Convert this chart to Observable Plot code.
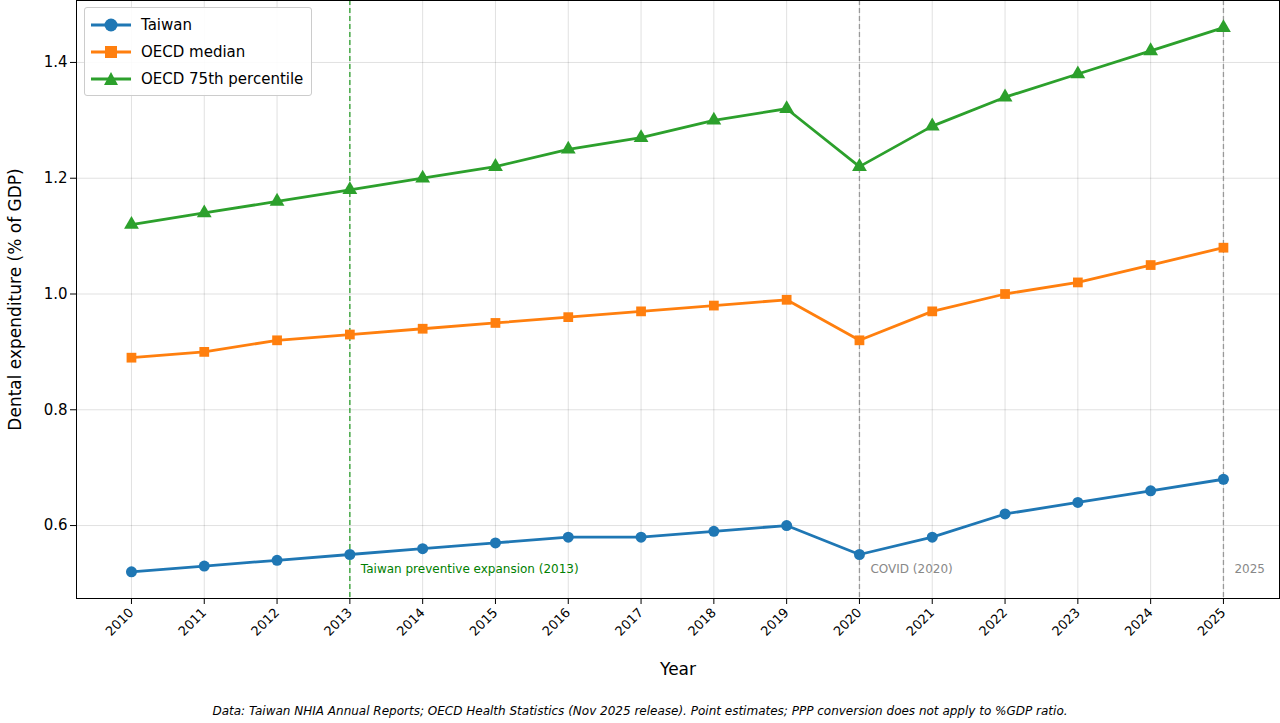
<!DOCTYPE html>
<html><head><meta charset="utf-8">
<script src="https://cdn.jsdelivr.net/npm/d3@7"></script>
<script src="https://cdn.jsdelivr.net/npm/@observablehq/plot@0.6"></script>
<style>
body{margin:0;background:#fff;font-family:"DejaVu Sans",sans-serif;}
#wrap{position:relative;width:1280px;}
#legend{position:absolute;left:84px;top:7px;background:rgba(255,255,255,0.9);border:1px solid #ccc;border-radius:3px;padding:3px 8px 3px 6px;font-size:15px;}
#legend div{display:flex;align-items:center;height:27px;}
#legend svg{margin-right:10px;}
#cap{text-align:center;font-style:italic;font-size:12px;margin-top:18px;}
</style></head><body>
<div id="wrap"><div id="chart"></div>
<div id="legend"></div>
<div id="cap">Data: Taiwan NHIA Annual Reports; OECD Health Statistics (Nov 2025 release). Point estimates; PPP conversion does not apply to %GDP ratio.</div></div>
<script>
const years=[2010,2011,2012,2013,2014,2015,2016,2017,2018,2019,2020,2021,2022,2023,2024,2025];
const taiwan=[0.52,0.53,0.54,0.55,0.56,0.57,0.58,0.58,0.59,0.60,0.55,0.58,0.62,0.64,0.66,0.68];
const median=[0.89,0.90,0.92,0.93,0.94,0.95,0.96,0.97,0.98,0.99,0.92,0.97,1.00,1.02,1.05,1.08];
const p75=[1.12,1.14,1.16,1.18,1.20,1.22,1.25,1.27,1.30,1.32,1.22,1.29,1.34,1.38,1.42,1.46];
const series=[{name:"Taiwan",vals:taiwan,color:"#1f77b4",sym:"circle"},{name:"OECD median",vals:median,color:"#ff7f0e",sym:"square"},{name:"OECD 75th percentile",vals:p75,color:"#2ca02c",sym:"triangle"}];
const data=series.flatMap(s=>years.map((y,i)=>({year:y,v:s.vals[i],name:s.name})));
const colors=series.map(s=>s.color);
const vlines=[{x:2013,c:"#2ca02c",tc:"green",t:"Taiwan preventive expansion (2013)"},{x:2020,c:"#999",tc:"#888",t:"COVID (2020)"},{x:2025,c:"#999",tc:"#888",t:"2025"}];
const chart=Plot.plot({
 width:1280,height:686,marginTop:0,marginBottom:88,marginLeft:76,marginRight:1,
 style:{fontSize:"13px",fontFamily:"DejaVu Sans"},
 x:{domain:[2009.245,2025.77]},
 y:{domain:[0.474,1.507]},
 color:{domain:series.map(s=>s.name),range:colors},
 symbol:{domain:series.map(s=>s.name),range:["circle","square","triangle"]},
 marks:[
  Plot.gridX(years,{stroke:"#000",strokeOpacity:0.12}),
  Plot.gridY([0.6,0.8,1.0,1.2,1.4],{stroke:"#000",strokeOpacity:0.12}),
  Plot.ruleX(vlines,{x:"x",stroke:"c",strokeDasharray:"5,3",strokeWidth:1.3}),
  Plot.text(vlines,{x:"x",y:0.525,text:"t",fill:"tc",textAnchor:"start",dx:11,fontSize:12}),
  Plot.line(data,{x:"year",y:"v",stroke:"name",strokeWidth:2.8}),
  Plot.dot(data,{x:"year",y:"v",fill:"name",symbol:"name",r:5.5}),
  Plot.frame({stroke:"#000"}),
  Plot.axisX({ticks:years,tickFormat:d=>String(d),tickRotate:-45,fontSize:13,label:"Year",labelAnchor:"center",labelArrow:"none",labelOffset:76}),
  Plot.axisY({ticks:[0.6,0.8,1.0,1.2,1.4],tickFormat:d=>d.toFixed(1),fontSize:15,label:"Dental expenditure (% of GDP)",labelAnchor:"center",labelArrow:"none",labelOffset:68})
 ]
});
document.getElementById("chart").append(chart);
chart.querySelectorAll("g[aria-label='x-axis label'] text, g[aria-label='y-axis label'] text").forEach(t=>t.style.fontSize="17px");
const leg=document.getElementById("legend");
const shapes={circle:'<circle cx="20" cy="8" r="6.5"/>',square:'<rect x="14" y="2" width="12" height="12"/>',triangle:'<path d="M20,1 L27,14 L13,14 Z"/>'};
series.forEach(s=>{const d=document.createElement("div");d.innerHTML=`<svg width="40" height="16"><line x1="0" x2="40" y1="8" y2="8" stroke="${s.color}" stroke-width="2.8"/><g fill="${s.color}">${shapes[s.sym]}</g></svg>${s.name}`;leg.append(d);});
</script></body></html>
